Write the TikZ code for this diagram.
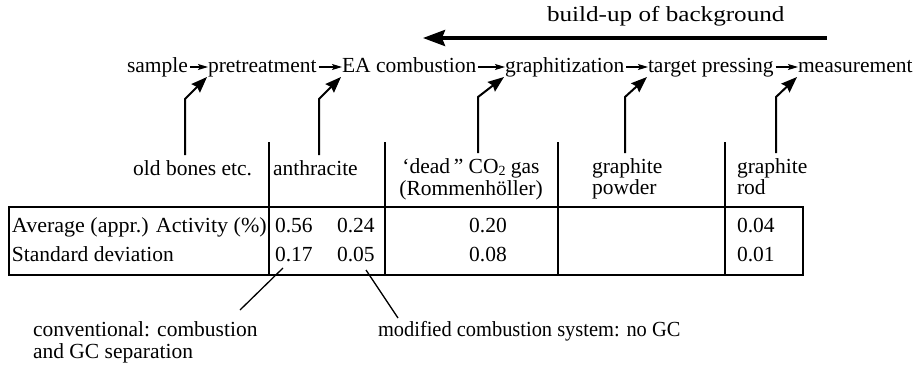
\documentclass[tikz,border=0pt]{standalone}
\usepackage{fontspec}
\setmainfont{Liberation Serif}
\usetikzlibrary{arrows.meta,calc}
\begin{document}
\begin{tikzpicture}[x=1pt,y=-1pt,
  every node/.style={inner sep=0pt,outer sep=0pt,font=\fontsize{21.5}{24}\selectfont},
  wrd/.style={anchor=base west},
  sarr/.style={line width=1.3pt,-{Stealth[length=10pt,width=6pt,inset=2pt]},shorten <=2pt},
  uarr/.style={line width=2pt,-{Stealth[length=16pt,width=12pt,inset=2pt]}},
  barr/.style={line width=3.4pt,-{Stealth[length=22pt,width=16pt,inset=3pt]}},
  tline/.style={line width=1.8pt},
  pline/.style={line width=1.3pt}]
\useasboundingbox (0,0) rectangle (917,369);
% top arrow
\coordinate (bs) at (827,38);
\coordinate (be) at (423,38);
\draw[barr] (bs) -- (be);
\node[wrd] (bg) at (547,22) {\scalebox{1.17}[1]{build-up of background}};
% process line
\node[wrd] (w1) at (127,72) {sample};
\node[wrd] (w2) at (208,72) {pretreatment};
\node[wrd] (w3) at (342,72) {EA combustion};
\node[wrd] (w4) at (505,72) {graphitization};
\node[wrd] (w5) at (648,72) {target pressing};
\node[wrd] (w6) at (798,72) {measurement};
\foreach \a/\b in {w1/w2,w2/w3,w3/w4,w4/w5,w5/w6}
  \draw[sarr] ([yshift=5pt]\a.base east) -- ([yshift=5pt]\b.base west);
% headers
\node[anchor=base east] (h1) at (252,175) {old bones etc.};
\node[wrd] (h2) at (273,175) {anthracite};
\node[anchor=base] (h3a) at (471,173) {‘dead\,” CO\raisebox{-2pt}{\fontsize{14}{14}\selectfont 2} gas};
\node[anchor=base] (h3b) at (471,195) {(Rommenhöller)};
\node[wrd] (h4a) at (592,173) {graphite};
\node[wrd] (h4b) at (592,194) {powder};
\node[wrd] (h5a) at (737,173) {graphite};
\node[wrd] (h5b) at (737,194) {rod};
% upward arrows
\coordinate (u1) at (185,155);
\coordinate (u2) at (319,155);
\coordinate (u3) at (478,153);
\coordinate (u4) at (625,153);
\coordinate (u5) at (776,153);
\foreach \u/\w in {u1/w2,u2/w3,u3/w4,u4/w5,u5/w6}
  \draw[uarr] (\u) -- ($(\u)+(0,-56)$) -- ([shift={(-1pt,-5pt)}]\w.base west);
% table
\draw[tline] (9,207) rectangle (803,275);
\foreach \x in {269,385,558,725} \draw[tline] (\x,142) -- (\x,275);
\node[wrd] (r1) at (12,232) {\scalebox{1.025}[1]{Average (appr.) Activity (\%)}};
\node[wrd] (a1) at (275,232) {0.56};
\node[wrd] (a2) at (337,232) {0.24};
\node[anchor=base] (a3) at (488,232) {0.20};
\node[wrd] (a4) at (737,232) {0.04};
\node[wrd] (r2) at (12,261) {Standard deviation};
\node[wrd] (s1) at (275,261) {0.17};
\node[wrd] (s2) at (337,261) {0.05};
\node[anchor=base] (s3) at (488,261) {0.08};
\node[wrd] (s4) at (737,261) {0.01};
% bottom notes
\node[wrd] (c1) at (33,336) {conventional: combustion};
\node[wrd] (c2) at (33,358) {and GC separation};
\node[wrd] (m1) at (378,336) {\scalebox{0.95}[1]{modified combustion system: no GC}};
\coordinate (p1a) at (283,268);
\coordinate (p1b) at (240,310);
\coordinate (p2a) at (366,270);
\coordinate (p2b) at (398,318);
\draw[pline] (p1a) -- (p1b);
\draw[pline] (p2a) -- (p2b);
\end{tikzpicture}
\end{document}
